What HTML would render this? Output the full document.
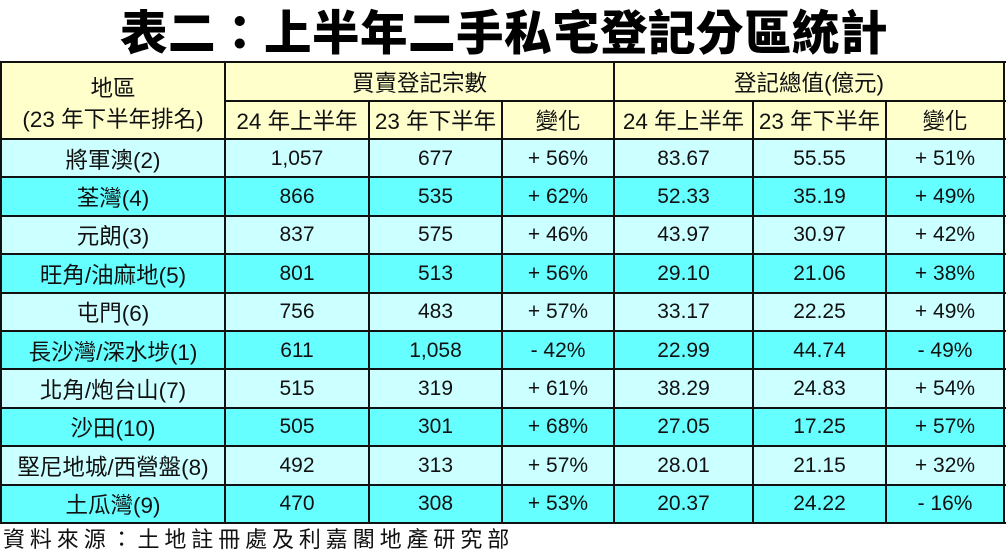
<!DOCTYPE html>
<html><head><meta charset="utf-8">
<style>
html,body{margin:0;padding:0;background:#fff;}
body{width:1008px;height:555px;position:relative;overflow:hidden;font-family:"Liberation Sans","Noto Sans CJK TC",sans-serif;color:#111;}
.t{position:absolute;left:0;top:2px;width:1008px;text-align:center;font-family:"Noto Sans CJK TC","WenQuanYi Zen Hei",sans-serif;font-weight:900;font-size:47.5px;line-height:56px;color:#000;letter-spacing:0.5px;}
.bg{position:absolute;}
.h{position:absolute;background:#111;height:2px;}
.v{position:absolute;background:#111;width:2px;}
.c{position:absolute;display:flex;align-items:center;justify-content:center;font-size:21px;white-space:nowrap;}
.z{font-size:22.5px;}
.f{position:absolute;left:3px;top:525px;font-family:"Liberation Sans","Noto Sans CJK TC",sans-serif;font-size:22px;letter-spacing:4.9px;line-height:30px;color:#111;}
</style></head><body>
<div class="t">表二：上半年二手私宅登記分區統計</div>

<div class="bg" style="left:0;top:62px;width:1005px;height:77px;background:#FFFFCC"></div>
<div class="bg" style="left:0;top:139px;width:1005px;height:38.4px;background:#CCFFFF"></div>
<div class="bg" style="left:0;top:177.4px;width:1005px;height:38.4px;background:#66FFFF"></div>
<div class="bg" style="left:0;top:215.8px;width:1005px;height:38.4px;background:#CCFFFF"></div>
<div class="bg" style="left:0;top:254.2px;width:1005px;height:38.4px;background:#66FFFF"></div>
<div class="bg" style="left:0;top:292.6px;width:1005px;height:38.4px;background:#CCFFFF"></div>
<div class="bg" style="left:0;top:331px;width:1005px;height:38.4px;background:#66FFFF"></div>
<div class="bg" style="left:0;top:369.4px;width:1005px;height:38.4px;background:#CCFFFF"></div>
<div class="bg" style="left:0;top:407.8px;width:1005px;height:38.4px;background:#66FFFF"></div>
<div class="bg" style="left:0;top:446.2px;width:1005px;height:38.4px;background:#CCFFFF"></div>
<div class="bg" style="left:0;top:484.6px;width:1005px;height:38.4px;background:#66FFFF"></div>

<!-- horizontal lines -->
<div class="h" style="left:0;top:61px;width:1006px"></div>
<div class="h" style="left:225px;top:100px;width:781px"></div>
<div class="h" style="left:0;top:138px;width:1006px"></div>
<div class="h" style="left:0;top:176.4px;width:1006px"></div>
<div class="h" style="left:0;top:214.8px;width:1006px"></div>
<div class="h" style="left:0;top:253.2px;width:1006px"></div>
<div class="h" style="left:0;top:291.6px;width:1006px"></div>
<div class="h" style="left:0;top:330px;width:1006px"></div>
<div class="h" style="left:0;top:368.4px;width:1006px"></div>
<div class="h" style="left:0;top:406.8px;width:1006px"></div>
<div class="h" style="left:0;top:445.2px;width:1006px"></div>
<div class="h" style="left:0;top:483.6px;width:1006px"></div>
<div class="h" style="left:0;top:522px;width:1006px"></div>

<!-- vertical lines -->
<div class="v" style="left:0;top:61px;height:463px"></div>
<div class="v" style="left:224px;top:61px;height:463px"></div>
<div class="v" style="left:368px;top:100px;height:424px"></div>
<div class="v" style="left:501px;top:100px;height:424px"></div>
<div class="v" style="left:613px;top:61px;height:463px"></div>
<div class="v" style="left:752px;top:100px;height:424px"></div>
<div class="v" style="left:885px;top:100px;height:424px"></div>
<div class="v" style="left:1003px;top:61px;height:463px"></div>

<!-- header -->
<div class="c z" style="left:2px;top:70px;width:222px;height:34px">地區</div>
<div class="c z" style="left:2px;top:100px;width:222px;height:36px">(23 年下半年排名)</div>
<div class="c z" style="left:226px;top:63px;width:387px;height:37px">買賣登記宗數</div>
<div class="c z" style="left:615px;top:63px;width:388px;height:37px">登記總值(億元)</div>
<div class="c z" style="left:226px;top:102px;width:142px;height:36px">24 年上半年</div>
<div class="c z" style="left:370px;top:102px;width:131px;height:36px">23 年下半年</div>
<div class="c z" style="left:503px;top:102px;width:110px;height:36px">變化</div>
<div class="c z" style="left:615px;top:102px;width:137px;height:36px">24 年上半年</div>
<div class="c z" style="left:754px;top:102px;width:131px;height:36px">23 年下半年</div>
<div class="c z" style="left:887px;top:102px;width:116px;height:36px">變化</div>

<!-- rows -->
<div class="c z" style="left:2px;top:140px;width:222px;height:37px">將軍澳(2)</div>
<div class="c" style="left:226px;top:140px;width:142px;height:37px">1,057</div>
<div class="c" style="left:370px;top:140px;width:131px;height:37px">677</div>
<div class="c" style="left:503px;top:140px;width:110px;height:37px">+ 56%</div>
<div class="c" style="left:615px;top:140px;width:137px;height:37px">83.67</div>
<div class="c" style="left:754px;top:140px;width:131px;height:37px">55.55</div>
<div class="c" style="left:887px;top:140px;width:116px;height:37px">+ 51%</div>

<div class="c z" style="left:2px;top:178.4px;width:222px;height:37px">荃灣(4)</div>
<div class="c" style="left:226px;top:178.4px;width:142px;height:37px">866</div>
<div class="c" style="left:370px;top:178.4px;width:131px;height:37px">535</div>
<div class="c" style="left:503px;top:178.4px;width:110px;height:37px">+ 62%</div>
<div class="c" style="left:615px;top:178.4px;width:137px;height:37px">52.33</div>
<div class="c" style="left:754px;top:178.4px;width:131px;height:37px">35.19</div>
<div class="c" style="left:887px;top:178.4px;width:116px;height:37px">+ 49%</div>

<div class="c z" style="left:2px;top:216.8px;width:222px;height:37px">元朗(3)</div>
<div class="c" style="left:226px;top:216.8px;width:142px;height:37px">837</div>
<div class="c" style="left:370px;top:216.8px;width:131px;height:37px">575</div>
<div class="c" style="left:503px;top:216.8px;width:110px;height:37px">+ 46%</div>
<div class="c" style="left:615px;top:216.8px;width:137px;height:37px">43.97</div>
<div class="c" style="left:754px;top:216.8px;width:131px;height:37px">30.97</div>
<div class="c" style="left:887px;top:216.8px;width:116px;height:37px">+ 42%</div>

<div class="c z" style="left:2px;top:255.2px;width:222px;height:37px">旺角/油麻地(5)</div>
<div class="c" style="left:226px;top:255.2px;width:142px;height:37px">801</div>
<div class="c" style="left:370px;top:255.2px;width:131px;height:37px">513</div>
<div class="c" style="left:503px;top:255.2px;width:110px;height:37px">+ 56%</div>
<div class="c" style="left:615px;top:255.2px;width:137px;height:37px">29.10</div>
<div class="c" style="left:754px;top:255.2px;width:131px;height:37px">21.06</div>
<div class="c" style="left:887px;top:255.2px;width:116px;height:37px">+ 38%</div>

<div class="c z" style="left:2px;top:293.6px;width:222px;height:37px">屯門(6)</div>
<div class="c" style="left:226px;top:293.6px;width:142px;height:37px">756</div>
<div class="c" style="left:370px;top:293.6px;width:131px;height:37px">483</div>
<div class="c" style="left:503px;top:293.6px;width:110px;height:37px">+ 57%</div>
<div class="c" style="left:615px;top:293.6px;width:137px;height:37px">33.17</div>
<div class="c" style="left:754px;top:293.6px;width:131px;height:37px">22.25</div>
<div class="c" style="left:887px;top:293.6px;width:116px;height:37px">+ 49%</div>

<div class="c z" style="left:2px;top:332px;width:222px;height:37px">長沙灣/深水埗(1)</div>
<div class="c" style="left:226px;top:332px;width:142px;height:37px">611</div>
<div class="c" style="left:370px;top:332px;width:131px;height:37px">1,058</div>
<div class="c" style="left:503px;top:332px;width:110px;height:37px">- 42%</div>
<div class="c" style="left:615px;top:332px;width:137px;height:37px">22.99</div>
<div class="c" style="left:754px;top:332px;width:131px;height:37px">44.74</div>
<div class="c" style="left:887px;top:332px;width:116px;height:37px">- 49%</div>

<div class="c z" style="left:2px;top:370.4px;width:222px;height:37px">北角/炮台山(7)</div>
<div class="c" style="left:226px;top:370.4px;width:142px;height:37px">515</div>
<div class="c" style="left:370px;top:370.4px;width:131px;height:37px">319</div>
<div class="c" style="left:503px;top:370.4px;width:110px;height:37px">+ 61%</div>
<div class="c" style="left:615px;top:370.4px;width:137px;height:37px">38.29</div>
<div class="c" style="left:754px;top:370.4px;width:131px;height:37px">24.83</div>
<div class="c" style="left:887px;top:370.4px;width:116px;height:37px">+ 54%</div>

<div class="c z" style="left:2px;top:408.8px;width:222px;height:37px">沙田(10)</div>
<div class="c" style="left:226px;top:408.8px;width:142px;height:37px">505</div>
<div class="c" style="left:370px;top:408.8px;width:131px;height:37px">301</div>
<div class="c" style="left:503px;top:408.8px;width:110px;height:37px">+ 68%</div>
<div class="c" style="left:615px;top:408.8px;width:137px;height:37px">27.05</div>
<div class="c" style="left:754px;top:408.8px;width:131px;height:37px">17.25</div>
<div class="c" style="left:887px;top:408.8px;width:116px;height:37px">+ 57%</div>

<div class="c z" style="left:2px;top:447.2px;width:222px;height:37px">堅尼地城/西營盤(8)</div>
<div class="c" style="left:226px;top:447.2px;width:142px;height:37px">492</div>
<div class="c" style="left:370px;top:447.2px;width:131px;height:37px">313</div>
<div class="c" style="left:503px;top:447.2px;width:110px;height:37px">+ 57%</div>
<div class="c" style="left:615px;top:447.2px;width:137px;height:37px">28.01</div>
<div class="c" style="left:754px;top:447.2px;width:131px;height:37px">21.15</div>
<div class="c" style="left:887px;top:447.2px;width:116px;height:37px">+ 32%</div>

<div class="c z" style="left:2px;top:485.6px;width:222px;height:37px">土瓜灣(9)</div>
<div class="c" style="left:226px;top:485.6px;width:142px;height:37px">470</div>
<div class="c" style="left:370px;top:485.6px;width:131px;height:37px">308</div>
<div class="c" style="left:503px;top:485.6px;width:110px;height:37px">+ 53%</div>
<div class="c" style="left:615px;top:485.6px;width:137px;height:37px">20.37</div>
<div class="c" style="left:754px;top:485.6px;width:131px;height:37px">24.22</div>
<div class="c" style="left:887px;top:485.6px;width:116px;height:37px">- 16%</div>

<div class="f">資料來源：土地註冊處及利嘉閣地產研究部</div>
</body></html>
